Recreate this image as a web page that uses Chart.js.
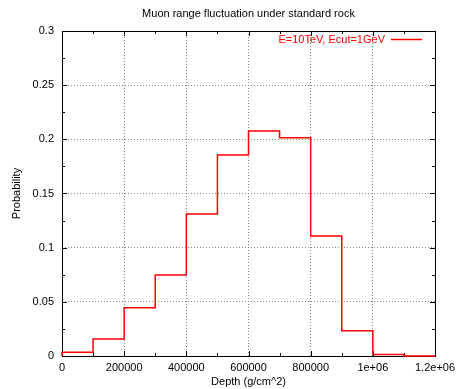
<!DOCTYPE html>
<html>
<head>
<meta charset="utf-8">
<script src="https://cdn.jsdelivr.net/npm/chart.js@4"></script>
<style>
  html, body { margin: 0; padding: 0; background: #fff; }
  #wrap { width: 456px; height: 389px; }
</style>
</head>
<body>
<div id="wrap"><canvas id="rangeHist"></canvas></div>
<script>
const binEdges = [0, 100000, 200000, 300000, 400000, 500000, 600000,
  700000, 800000, 900000, 1000000, 1100000, 1200000];
const probability = [0.0035, 0.0157, 0.0446, 0.0748, 0.131, 0.1855,
  0.2077, 0.2015, 0.1108, 0.0234, 0.0013, 0];
const xTickLabels = ["0", "200000", "400000", "600000", "800000", "1e+06", "1.2e+06"];
const yTickLabels = ["0", "0.05", "0.1", "0.15", "0.2", "0.25", "0.3"];
const chartTitle = "Muon range fluctuation under standard rock";

const FONT = "'Liberation Sans', Arial, Helvetica, sans-serif";

// histogram steps: start at the baseline, then one point per bin right edge
const points = [{ x: binEdges[0], y: 0 }].concat(
  probability.map((p, i) => ({ x: binEdges[i + 1], y: p }))
);

// gnuplot look: full border box, inward ticks, title over the plot, key inside
const gnuplotFrame = {
  id: "gnuplotFrame",
  beforeDatasetsDraw(chart) {
    const { ctx, chartArea: a, scales: { x, y } } = chart;
    ctx.save();
    ctx.strokeStyle = "#000";
    ctx.lineWidth = 1;
    ctx.beginPath();
    // minor + major ticks on x, every 100000
    binEdges.forEach((v, i) => {
      const px = Math.round(x.getPixelForValue(v)) + 0.5;
      const len = i % 2 === 0 ? 5 : 3;
      ctx.moveTo(px, a.bottom); ctx.lineTo(px, a.bottom - len);
      ctx.moveTo(px, a.top); ctx.lineTo(px, a.top + len);
    });
    // y ticks, every 0.025
    for (let k = 0; k <= 12; k++) {
      const py = Math.round(y.getPixelForValue(k * 0.025)) + 0.5;
      const len = k % 2 === 0 ? 5 : 3;
      ctx.moveTo(a.left, py); ctx.lineTo(a.left + len, py);
      ctx.moveTo(a.right, py); ctx.lineTo(a.right - len, py);
    }
    ctx.stroke();
    ctx.strokeRect(Math.round(a.left) + 0.5, Math.round(a.top) + 0.5,
      Math.round(a.right - a.left), Math.round(a.bottom - a.top));
    ctx.restore();
  },
  afterDraw(chart) {
    const { ctx, chartArea: a } = chart;
    const ds = chart.data.datasets[0];
    ctx.save();
    ctx.font = "11px " + FONT;
    ctx.textBaseline = "middle";
    ctx.fillStyle = "#000";
    ctx.textAlign = "center";
    ctx.fillText(chartTitle, (a.left + a.right) / 2, 14);

    const ly = a.top + 8.5;
    ctx.fillStyle = ds.borderColor;
    ctx.textAlign = "right";
    ctx.fillText(ds.label, a.right - 50, ly);
    ctx.strokeStyle = ds.borderColor;
    ctx.lineWidth = 1.5;
    ctx.beginPath();
    ctx.moveTo(a.right - 44, ly);
    ctx.lineTo(a.right - 13, ly);
    ctx.stroke();
    ctx.restore();
  }
};

new Chart(document.getElementById("rangeHist"), {
  type: "line",
  data: {
    datasets: [{
      label: "E=10TeV, Ecut=1GeV",
      data: points,
      stepped: "after",
      borderColor: "#ff0000",
      borderWidth: 1.5,
      pointRadius: 0,
      fill: false,
      clip: false
    }]
  },
  options: {
    responsive: true,
    maintainAspectRatio: false,
    animation: false,
    parsing: false,
    layout: { padding: { left: 0, right: 21, top: 31, bottom: 0 } },
    plugins: {
      legend: { display: false },
      tooltip: { enabled: false },
      title: { display: false }
    },
    scales: {
      x: {
        type: "linear",
        min: 0,
        max: 1200000,
        ticks: {
          stepSize: 200000,
          maxRotation: 0,
          autoSkip: false,
          padding: 5,
          color: "#000",
          font: { family: FONT, size: 11 },
          callback: (v) => xTickLabels[Math.round(v / 200000)]
        },
        grid: { color: "#888", lineWidth: 1, drawTicks: false },
        border: { display: false, dash: [1, 2] },
        title: {
          display: true,
          text: "Depth (g/cm^2)",
          color: "#000",
          font: { family: FONT, size: 11 },
          padding: { top: 0, bottom: 0 }
        },
        afterFit: (s) => { s.height = 33; s.paddingLeft = 0; s.paddingRight = 0; }
      },
      y: {
        min: 0,
        max: 0.3,
        ticks: {
          stepSize: 0.05,
          padding: 8,
          color: "#000",
          font: { family: FONT, size: 11 },
          callback: (v) => yTickLabels[Math.round(v / 0.05)]
        },
        grid: { color: "#888", lineWidth: 1, drawTicks: false },
        border: { display: false, dash: [1, 2] },
        title: {
          display: true,
          text: "Probability",
          color: "#000",
          font: { family: FONT, size: 11 },
          padding: { top: 10, bottom: 0 }
        },
        afterFit: (s) => { s.width = 62; s.paddingTop = 0; s.paddingBottom = 0; }
      }
    }
  },
  plugins: [gnuplotFrame]
});
</script>
</body>
</html>
